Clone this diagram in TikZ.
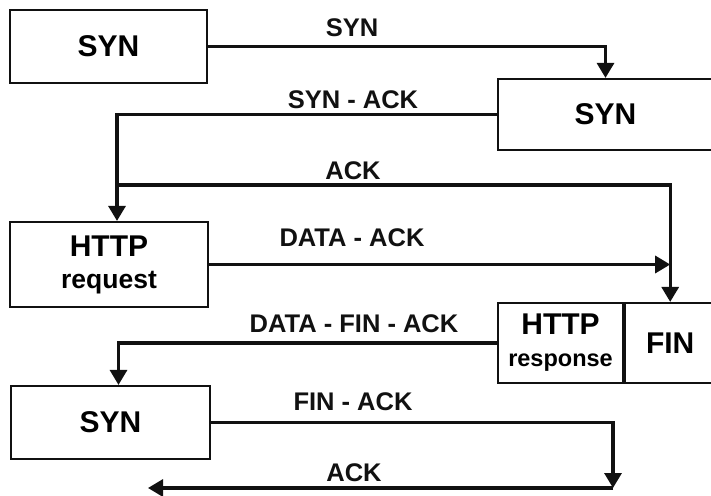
\documentclass[tikz,border=0pt]{standalone}
\usepackage{fontspec}
\setmainfont{Liberation Sans}
\usetikzlibrary{arrows.meta,positioning}
\definecolor{TCPInk}{HTML}{111111}

\begin{document}
\begin{tikzpicture}[x=1pt,y=-1pt,
    box/.style={draw=TCPInk, line width=2.2pt, inner sep=0pt, align=center,
      font=\bfseries\fontsize{30}{32}\selectfont},
    link/.style={draw=TCPInk, line width=3.2pt},
    tip/.style={-{Triangle[width=17pt,length=15pt]}},
    lbl/.style={text=TCPInk, inner sep=0pt, font=\bfseries\fontsize{25.5}{28}\selectfont}]
    \clip (0,0) rectangle (711,495);
    \fill[white] (0,0) rectangle (711,495);
    % client and server boxes
    \node[box, minimum width=197, minimum height=73] (syn1) at (108.5,46.5) {SYN};
    \node[box, minimum width=215, minimum height=71] (syn2) at (605.5,114.5) {SYN};
    \node[box, minimum width=198, minimum height=85] (req) at (109,264.5)
      {HTTP\\{\fontsize{26.5}{28}\selectfont request}};
    \node[box, minimum width=125, minimum height=80] (resp) at (560.5,343)
      {HTTP\\{\fontsize{23.5}{26}\selectfont response}};
    \node[box, minimum width=90, minimum height=80, anchor=west] (fin) at (resp.east) {FIN};
    \node[box, minimum width=199, minimum height=73] (syn3) at (110.5,422.5) {SYN};
    \coordinate (ackstart) at (117,185);
    \coordinate (turn) at (613,488);
    \coordinate (ackend) at (148,488);
    % connectors
    \draw[link, tip] (syn1.east) -| (syn2.north);
    \draw[link, tip] (syn2.west) -| ([xshift=8pt]req.north);
    \draw[link, tip] (ackstart) -| (fin.north);
    \draw[link, tip] (req.east) -- (req.east -| fin.north);
    \draw[link, tip] (resp.west) -| ([xshift=8pt]syn3.north);
    \draw[link, tip] (syn3.east) -| (turn);
    \draw[link, tip] (turn) -- (ackend);
    % labels
    \node[lbl] (lsyn) at (352,28) {SYN};
    \node[lbl] (lsynack) at (353,100) {SYN - ACK};
    \node[lbl] (lack) at (353,171) {ACK};
    \node[lbl] (ldata) at (352,238) {DATA - ACK};
    \node[lbl] (ldatafin) at (354,323.5) {DATA - FIN - ACK};
    \node[lbl] (lfinack) at (353,401.5) {FIN - ACK};
    \node[lbl] (lack2) at (354,473) {ACK};
\end{tikzpicture}
\end{document}
